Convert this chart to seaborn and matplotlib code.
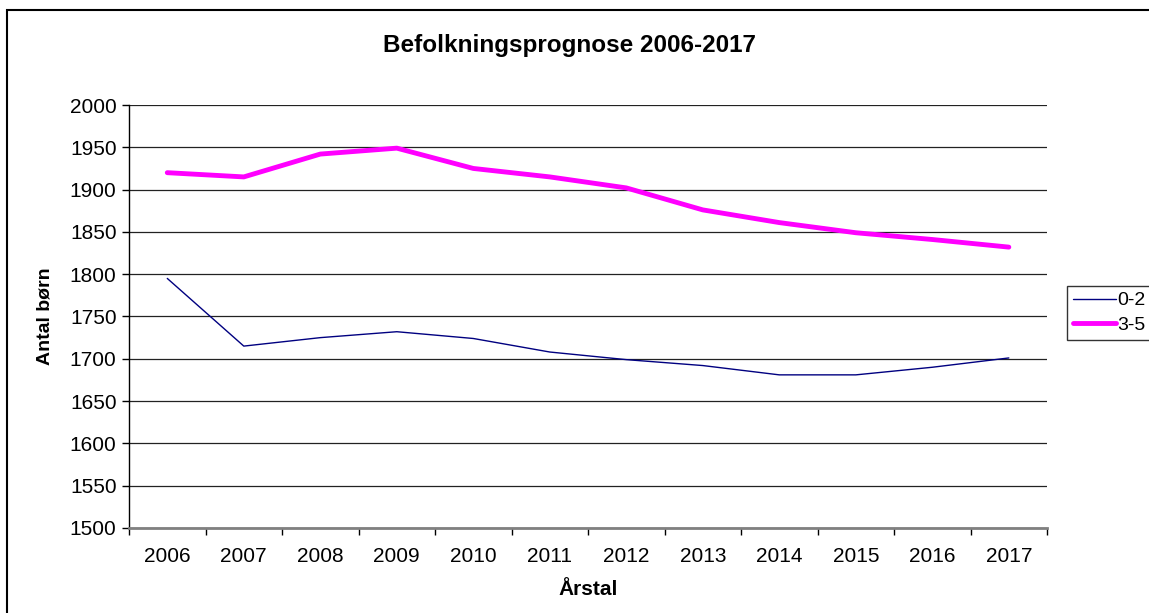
import matplotlib
matplotlib.use("Agg")
import matplotlib.pyplot as plt
import seaborn as sns
import pandas as pd
from matplotlib.patches import Rectangle
from matplotlib.lines import Line2D
from matplotlib.ticker import MultipleLocator

years = ["2006", "2007", "2008", "2009", "2010", "2011",
         "2012", "2013", "2014", "2015", "2016", "2017"]
series_0_2 = [1795, 1715, 1725, 1732, 1724, 1708, 1699, 1692, 1681, 1681, 1690, 1701]
series_3_5 = [1920, 1915, 1942, 1949, 1925, 1915, 1902, 1876, 1861, 1849, 1841, 1832]
series_names = ["0-2", "3-5"]
title = "Befolkningsprognose 2006-2017"
xlabel = "Årstal"
ylabel = "Antal børn"

df = pd.DataFrame({
    "År": years * 2,
    "Antal": series_0_2 + series_3_5,
    "Gruppe": [series_names[0]] * len(years) + [series_names[1]] * len(years),
})

sns.set_theme(style="white")
plt.rcParams["font.family"] = ["Liberation Sans", "DejaVu Sans"]
plt.rcParams["text.color"] = "black"
plt.rcParams["axes.labelcolor"] = "black"
plt.rcParams["xtick.color"] = "black"
plt.rcParams["ytick.color"] = "black"

fig = plt.figure(figsize=(11.49, 6.13), dpi=100)
ax = fig.add_axes([0.1123, 0.1387, 0.799, 0.690])

palette = {"0-2": "#000080", "3-5": "#FF00FF"}
sizes = {"0-2": 1.0, "3-5": 3.5}
sns.lineplot(data=df, x="År", y="Antal", hue="Gruppe", size="Gruppe",
             palette=palette, sizes=sizes, ax=ax, sort=False, legend=False)

ax.set_ylim(1500, 2000)
ax.set_xlim(-0.5, len(years) - 0.5)
ax.yaxis.set_major_locator(MultipleLocator(50))
ax.grid(axis="y", color="#222222", linewidth=0.9)
ax.set_axisbelow(True)

ax.set_xticks(range(len(years)))
ax.set_xticklabels(years)
ax.set_xticks([i - 0.5 for i in range(len(years) + 1)], minor=True)
ax.tick_params(axis="x", which="major", length=0, labelsize=15, pad=14, colors="black")
ax.tick_params(axis="x", which="minor", length=5, width=1, color="black", bottom=True)
ax.tick_params(axis="y", which="major", length=5, width=1, labelsize=15, color="black",
               labelcolor="black", left=True, pad=4)

for s in ["top", "right"]:
    ax.spines[s].set_visible(False)
ax.spines["left"].set_color("black")
ax.spines["left"].set_linewidth(1.0)
ax.spines["bottom"].set_color("#808080")
ax.spines["bottom"].set_linewidth(2.0)

ax.set_xlabel(xlabel, fontsize=15, fontweight="bold", color="black")
ax.set_ylabel(ylabel, fontsize=14, fontweight="bold", color="black")
ax.xaxis.label.set_va("center")
ax.yaxis.label.set_va("center")
ax.xaxis.set_label_coords(0.5, -0.1466)
ax.yaxis.set_label_coords(-0.092, 0.5)

fig.text(0.496, 0.926, title, ha="center", va="center", fontsize=17.5,
         fontweight="bold", color="black")

handles = [Line2D([], [], color=palette[n], linewidth=sizes[n]) for n in series_names]
leg = fig.legend(handles, series_names, loc="upper left",
                 bbox_to_anchor=(0.9287, 0.5334), frameon=True, fancybox=False,
                 fontsize=14, handlelength=2.2, handletextpad=0.1, borderpad=0.3,
                 labelspacing=0.35, borderaxespad=0)
leg.get_frame().set_edgecolor("black")
leg.get_frame().set_linewidth(1.0)

fig.patches.append(Rectangle((0.0061, -0.1), 1.2, 1.0837, transform=fig.transFigure,
                             fill=False, edgecolor="black", linewidth=1.5))

fig.savefig("out.png", dpi=100)
